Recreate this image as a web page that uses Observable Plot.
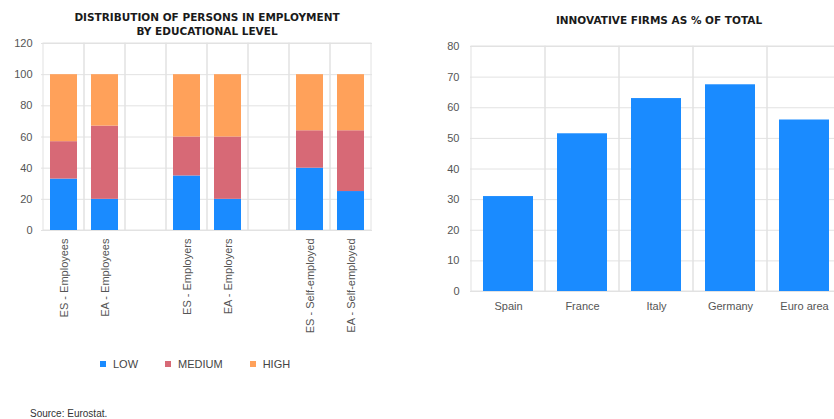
<!DOCTYPE html>
<html>
<head>
<meta charset="utf-8">
<script src="https://cdn.jsdelivr.net/npm/d3@7"></script>
<script src="https://cdn.jsdelivr.net/npm/@observablehq/plot@0.6"></script>
<style>
  html, body { margin: 0; padding: 0; background: #fff; }
  body { width: 834px; height: 419px; overflow: hidden; position: relative; font-family: "Liberation Sans", Arial, sans-serif; }
  .abs { position: absolute; }
  svg { max-width: none !important; }
  .title { font-family: "DejaVu Sans", sans-serif; font-weight: bold; font-size: 10.5px; color: #1a1a1a; text-align: center; line-height: 14px; }
  #legend { display: flex; align-items: center; font-size: 11px; color: #444; }
  #legend .item { display: flex; align-items: center; margin-right: 27px; }
  #legend .sw { width: 6px; height: 6px; margin-right: 7px; }
  #source { font-size: 10px; color: #333; }
</style>
</head>
<body>
<div class="abs title" style="left:0;top:10px;width:414px;">DISTRIBUTION OF PERSONS IN EMPLOYMENT<br>BY EDUCATIONAL LEVEL</div>
<div class="abs title" style="left:459px;top:13px;width:400px;">INNOVATIVE FIRMS AS % OF TOTAL</div>
<div id="left" class="abs" style="left:0;top:0;width:420px;"></div>
<div id="right" class="abs" style="left:420px;top:0;width:430px;"></div>
<div id="legend" class="abs" style="left:100px;top:358px;"></div>
<div id="source" class="abs" style="left:30px;top:408px;">Source: Eurostat.</div>
<script>
// ---- data: left chart ----
const levels = ["LOW", "MEDIUM", "HIGH"];
const levelColors = ["#1a8bff", "#d76976", "#ffa15a"];
const groups = ["ES - Employees", "EA - Employees", "ES - Employers", "EA - Employers", "ES - Self-employed", "EA - Self-employed"];
const lowShare = [33, 20, 35, 20, 40, 25];
const mediumShare = [24, 47, 25, 40, 24, 39];
const highShare = [43, 33, 40, 40, 36, 36];
const yTicksLeft = [0, 20, 40, 60, 80, 100, 120];

// ---- data: right chart ----
const countries = ["Spain", "France", "Italy", "Germany", "Euro area"];
const innovative = [31, 51.5, 63, 67.5, 56];
const yTicksRight = [0, 10, 20, 30, 40, 50, 60, 70, 80];

const grid = "#e2e2e2";
const textColor = "#555";
const font = "Liberation Sans, Arial, sans-serif";

// band domain with empty spacer columns between the groups
const xDomain = [groups[0], groups[1], "gap1", groups[2], groups[3], "gap2", groups[4], groups[5]];
const shares = [lowShare, mediumShare, highShare];
const stackData = [];
groups.forEach((g, i) => levels.forEach((lv, j) => stackData.push({group: g, level: lv, value: shares[j][i]})));

const left = Plot.plot({
  width: 420, height: 350,
  marginLeft: 41, marginRight: 48, marginTop: 43, marginBottom: 120,
  style: {fontFamily: font, color: textColor, background: "transparent", overflow: "visible"},
  x: {domain: xDomain, padding: 0, axis: null},
  y: {domain: [0, 120], axis: null},
  color: {domain: levels, range: levelColors},
  marks: [
    Plot.gridY(yTicksLeft, {stroke: grid, strokeOpacity: 1}),
    Plot.barY(xDomain, {x: d => d, y1: () => 0, y2: () => 120, fill: "none", stroke: grid}),
    Plot.barY(stackData, {x: "group", y: "value", fill: "level", order: levels, insetLeft: 7, insetRight: 7}),
    Plot.axisY(yTicksLeft, {tickSize: 0, tickPadding: 9, fontSize: 11, label: null, fill: textColor}),
    Plot.axisX(groups, {tickSize: 0, tickRotate: -90, tickPadding: 8, fontSize: 11, label: null, fill: textColor})
  ]
});
document.getElementById("left").appendChild(left);

const barData = countries.map((c, i) => ({country: c, value: innovative[i]}));
const right = Plot.plot({
  width: 430, height: 321,
  marginLeft: 50, marginRight: 8, marginTop: 46, marginBottom: 30,
  style: {fontFamily: font, color: textColor, background: "transparent", overflow: "visible"},
  x: {domain: countries, padding: 0, axis: null},
  y: {domain: [0, 80], axis: null},
  marks: [
    Plot.gridY(yTicksRight, {stroke: grid, strokeOpacity: 1}),
    Plot.barY(countries, {x: d => d, y1: () => 0, y2: () => 80, fill: "none", stroke: grid}),
    Plot.barY(barData, {x: "country", y: "value", fill: levelColors[0], insetLeft: 12, insetRight: 12}),
    Plot.axisY(yTicksRight, {tickSize: 0, tickPadding: 11, fontSize: 11, label: null, fill: textColor}),
    Plot.axisX(countries, {tickSize: 0, tickPadding: 11, fontSize: 11, label: null, fill: textColor})
  ]
});
document.getElementById("right").appendChild(right);

// legend
const legend = document.getElementById("legend");
levels.forEach((lv, i) => {
  const item = document.createElement("div");
  item.className = "item";
  const sw = document.createElement("span");
  sw.className = "sw";
  sw.style.background = levelColors[i];
  const t = document.createElement("span");
  t.textContent = lv;
  item.appendChild(sw); item.appendChild(t);
  legend.appendChild(item);
});
</script>
</body>
</html>
